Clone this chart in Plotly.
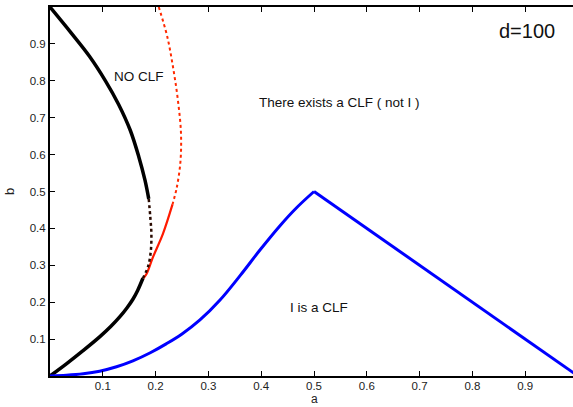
import plotly.graph_objects as go

# Black boundary curve (upper solid, nose dotted, lower solid)
black_up_a = [0.0, 0.040, 0.075, 0.105, 0.130, 0.152, 0.168, 0.180, 0.187]
black_up_b = [1.0, 0.930, 0.866, 0.80, 0.736, 0.666, 0.595, 0.53, 0.48]
black_nose_a = [0.187, 0.190, 0.192, 0.191, 0.186, 0.176]
black_nose_b = [0.48, 0.43, 0.386, 0.34, 0.298, 0.265]
black_low_a = [0.176, 0.166, 0.157, 0.146, 0.132, 0.115, 0.094, 0.062, 0.031, 0.0]
black_low_b = [0.265, 0.232, 0.208, 0.185, 0.160, 0.134, 0.106, 0.068, 0.033, 0.0]

# Red curve (upper dotted, lower solid)
red_up_a = [0.206, 0.222, 0.233, 0.242, 0.248, 0.247, 0.240, 0.232]
red_up_b = [1.0, 0.92, 0.837, 0.75, 0.66, 0.58, 0.51, 0.465]
red_low_a = [0.232, 0.214, 0.195, 0.183, 0.177]
red_low_b = [0.465, 0.386, 0.322, 0.277, 0.265]

# Blue curve
blue_rise_a = [0.0, 0.031, 0.063, 0.094, 0.126, 0.157, 0.19, 0.22, 0.25, 0.284, 0.322, 0.36, 0.398, 0.436, 0.467, 0.5]
blue_rise_b = [0.0, 0.002, 0.006, 0.013, 0.025, 0.041, 0.063, 0.087, 0.114, 0.152, 0.206, 0.272, 0.342, 0.408, 0.456, 0.5]
blue_fall_a = [0.5, 1.0]
blue_fall_b = [0.5, 0.0]

tick_vals = [0.1, 0.2, 0.3, 0.4, 0.5, 0.6, 0.7, 0.8, 0.9]
tick_text = ["0.1", "0.2", "0.3", "0.4", "0.5", "0.6", "0.7", "0.8", "0.9"]

FONT = "Liberation Sans, Arial, sans-serif"

fig = go.Figure()
fig.add_trace(go.Scatter(x=red_up_a, y=red_up_b, mode="lines", line=dict(color="#ff2a00", width=2, dash="dot", shape="spline", smoothing=1)))
fig.add_trace(go.Scatter(x=red_low_a, y=red_low_b, mode="lines", line=dict(color="#ff1a00", width=2.2, shape="spline", smoothing=1)))
fig.add_trace(go.Scatter(x=black_nose_a, y=black_nose_b, mode="lines", line=dict(color="#2a0a00", width=2.5, dash="dot", shape="spline", smoothing=1)))
fig.add_trace(go.Scatter(x=black_up_a, y=black_up_b, mode="lines", line=dict(color="black", width=3.5, shape="spline", smoothing=1)))
fig.add_trace(go.Scatter(x=black_low_a, y=black_low_b, mode="lines", line=dict(color="black", width=3.5, shape="spline", smoothing=1)))
fig.add_trace(go.Scatter(x=blue_rise_a, y=blue_rise_b, mode="lines", line=dict(color="#0000ff", width=3, shape="spline", smoothing=1)))
fig.add_trace(go.Scatter(x=blue_fall_a, y=blue_fall_b, mode="lines", line=dict(color="#0000ff", width=3)))

texts = [
    (0.168, 0.812, "NO CLF", 13.5),
    (0.549, 0.742, "There exists a CLF ( not I )", 13.5),
    (0.51, 0.187, "I is a CLF", 13.5),
    (0.904, 0.934, "d=100", 20),
]
for x, y, t, s in texts:
    fig.add_annotation(x=x, y=y, xref="x", yref="y", text=t, showarrow=False,
                       font=dict(family=FONT, size=s, color="#111"))

# x-axis title as an annotation anchored to the page bottom
fig.add_annotation(x=0.5, y=-0.0841, xref="x", yref="paper", yanchor="bottom",
                   text="a", showarrow=False, borderpad=0,
                   font=dict(family=FONT, size=12, color="#222"))

fig.update_layout(
    width=573, height=407,
    margin=dict(l=50, r=0, t=7, b=31, pad=0),
    plot_bgcolor="white", paper_bgcolor="white",
    showlegend=False,
    font=dict(family=FONT, size=11.5, color="#222"),
)
fig.update_xaxes(range=[0, 0.9905], tickvals=tick_vals, ticktext=tick_text,
                 ticks="inside", ticklen=5, tickcolor="black", tickwidth=1,
                 showline=True, linecolor="black", linewidth=2, mirror="ticks",
                 showgrid=False, zeroline=False, ticklabelstandoff=-2)
fig.update_yaxes(range=[0, 1], tickvals=tick_vals, ticktext=tick_text,
                 ticks="inside", ticklen=5, tickcolor="black", tickwidth=1,
                 showline=True, linecolor="black", linewidth=2, mirror=False,
                 showgrid=False, zeroline=False,
                 title=dict(text="b", font=dict(size=13), standoff=12))

fig.write_html("out.html")
